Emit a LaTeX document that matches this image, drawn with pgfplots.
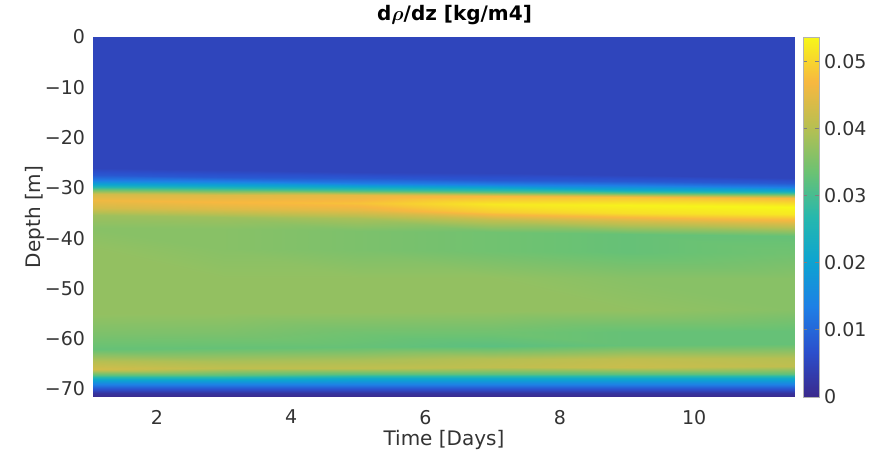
\documentclass[border=0pt]{standalone}
\usepackage{amsmath}
\usepackage{pgfplots}
\pgfplotsset{compat=1.18}
\usepackage{fontspec}
\setmainfont{DejaVu Sans}
\pgfplotstableread{
t d v
1.05 0 0.005
3 0 0.005
5 0 0.005
7 0 0.005
9 0 0.005
11.5 0 0.005
1.05 -26 0.005
3 -26.37 0.005
5 -26.76 0.005
7 -27.14 0.005
9 -27.52 0.005
11.5 -28 0.005
1.05 -27.5 0.008
3 -27.78 0.008
5 -28.07 0.008
7 -28.35 0.008
9 -28.64 0.008
11.5 -29 0.008
1.05 -28.5 0.013
3 -28.74 0.013
5 -28.99 0.013
7 -29.24 0.013
9 -29.49 0.013
11.5 -29.8 0.013
1.05 -29.5 0.022
3 -29.71 0.022
5 -29.92 0.022
7 -30.13 0.022
9 -30.34 0.022
11.5 -30.6 0.022
1.05 -30.3 0.032
3 -30.47 0.032
5 -30.64 0.032
7 -30.81 0.032
9 -30.98 0.032
11.5 -31.2 0.032
1.05 -31.2 0.043
3 -31.35 0.044
5 -31.5 0.045
7 -31.66 0.047
9 -31.81 0.048
11.5 -32 0.047
1.05 -32.5 0.046
3 -32.74 0.047
5 -32.99 0.048
7 -33.24 0.052
9 -33.49 0.053
11.5 -33.8 0.054
1.05 -34 0.043
3 -34.24 0.044
5 -34.49 0.045
7 -34.74 0.049
9 -34.99 0.051
11.5 -35.3 0.052
1.05 -35.5 0.038
3 -35.78 0.038
5 -36.07 0.039
7 -36.35 0.041
9 -36.64 0.043
11.5 -37 0.044
1.05 -38 0.036
3 -38.28 0.036
5 -38.57 0.035
7 -38.85 0.034
9 -39.14 0.033
11.5 -39.5 0.033
1.05 -42 0.037
3 -42.19 0.036
5 -42.38 0.035
7 -42.57 0.034
9 -42.76 0.033
11.5 -43 0.034
1.05 -48 0.037
3 -48 0.037
5 -48 0.037
7 -48 0.037
9 -48 0.036
11.5 -48 0.036
1.05 -55 0.037
3 -54.8 0.037
5 -54.6 0.037
7 -54.4 0.037
9 -54.2 0.037
11.5 -54 0.036
1.05 -59 0.035
3 -58.9 0.035
5 -58.8 0.034
7 -58.7 0.034
9 -58.6 0.033
11.5 -58.5 0.033
1.05 -62 0.033
3 -61.81 0.033
5 -61.62 0.033
7 -61.43 0.032
9 -61.24 0.033
11.5 -61 0.033
1.05 -64.5 0.040
3 -64.37 0.039
5 -64.24 0.039
7 -64.1 0.040
9 -63.97 0.041
11.5 -63.8 0.040
1.05 -66 0.043
3 -65.9 0.041
5 -65.8 0.041
7 -65.7 0.041
9 -65.6 0.042
11.5 -65.5 0.041
1.05 -67.2 0.032
3 -67.15 0.032
5 -67.1 0.032
7 -67.1 0.032
9 -67.05 0.032
11.5 -67 0.032
1.05 -68 0.022
3 -67.95 0.022
5 -67.9 0.022
7 -67.9 0.022
9 -67.85 0.022
11.5 -67.8 0.022
1.05 -69 0.014
3 -69 0.014
5 -69 0.014
7 -69 0.014
9 -69 0.014
11.5 -69 0.014
1.05 -70 0.007
3 -70 0.007
5 -70 0.007
7 -70 0.007
9 -70 0.007
11.5 -70 0.007
1.05 -70.8 0.002
3 -70.8 0.002
5 -70.8 0.002
7 -70.8 0.002
9 -70.8 0.002
11.5 -70.8 0.002
1.05 -71.6 0.0
3 -71.6 0.0
5 -71.6 0.0
7 -71.6 0.0
9 -71.6 0.0
11.5 -71.6 0.0
}\datatable
\begin{document}
\begin{tikzpicture}
\begin{axis}[
  name=ax,
  scale only axis,
  width=351pt, height=180pt,
  view={0}{90},
  xmin=1.05, xmax=11.5,
  ymin=-71.6, ymax=0,
  xtick={2,4,6,8,10},
  ytick={-70,-60,-50,-40,-30,-20,-10,0},
  yticklabels={−70,−60,−50,−40,−30,−20,−10,0},
  axis line style={draw=none},
  tick style={draw=none},
  tick label style={font=\fontsize{9.5}{11}\selectfont, text=black!80},
  /pgf/number format/assume math mode=true,
  xticklabel style={yshift=-3pt},
  yticklabel style={xshift=-0.5pt},
  xlabel={Time [Days]},
  ylabel={Depth [m]},
  label style={font=\fontsize{10}{12}\selectfont, text=black!80},
  xlabel style={at={(axis description cs:0.5,-0.12)}, anchor=center},
  ylabel style={at={(axis description cs:-0.0826,0.5)}, anchor=center},
  every axis title shift=0pt,
  title={\textbf{d$\boldsymbol{\rho}$/dz [kg/m4]}},
  title style={font=\fontsize{10}{12}\selectfont, at={(axis description cs:0.515,1.06)}, anchor=center},
  colormap={parula}{rgb=(0.23,0.16,0.55) rgb=(0.17,0.31,0.80) rgb=(0.12,0.50,0.90) rgb=(0.05,0.64,0.82) rgb=(0.15,0.72,0.68) rgb=(0.42,0.76,0.45) rgb=(0.72,0.75,0.32) rgb=(0.97,0.72,0.25) rgb=(0.97,0.97,0.10)},
  point meta min=0, point meta max=0.0536,
  colorbar,
  colorbar style={
    at={(parent axis.north east)}, anchor=north west, xshift=-4.5pt,
    width=8pt,
    scaled y ticks=false,
    ytick={0,0.01,0.02,0.03,0.04,0.05},
    yticklabels={0,0.01,0.02,0.03,0.04,0.05},
    yticklabel style={font=\fontsize{9.5}{11}\selectfont, text=black!80, xshift=-1pt},
    axis line style={draw=black!30},
    tick style={draw=black!50, thin},
    major tick length=2pt,
  },
]
\addplot3[surf, shader=interp, mesh/rows=24, mesh/cols=6] table[x=t, y=d, z=v, meta=v] {\datatable};
\end{axis}
\pgfresetboundingbox
\path ([shift={(-46.5pt,-30pt)}]ax.south west) rectangle ([shift={(42pt,18.5pt)}]ax.north east);
\end{tikzpicture}
\end{document}
